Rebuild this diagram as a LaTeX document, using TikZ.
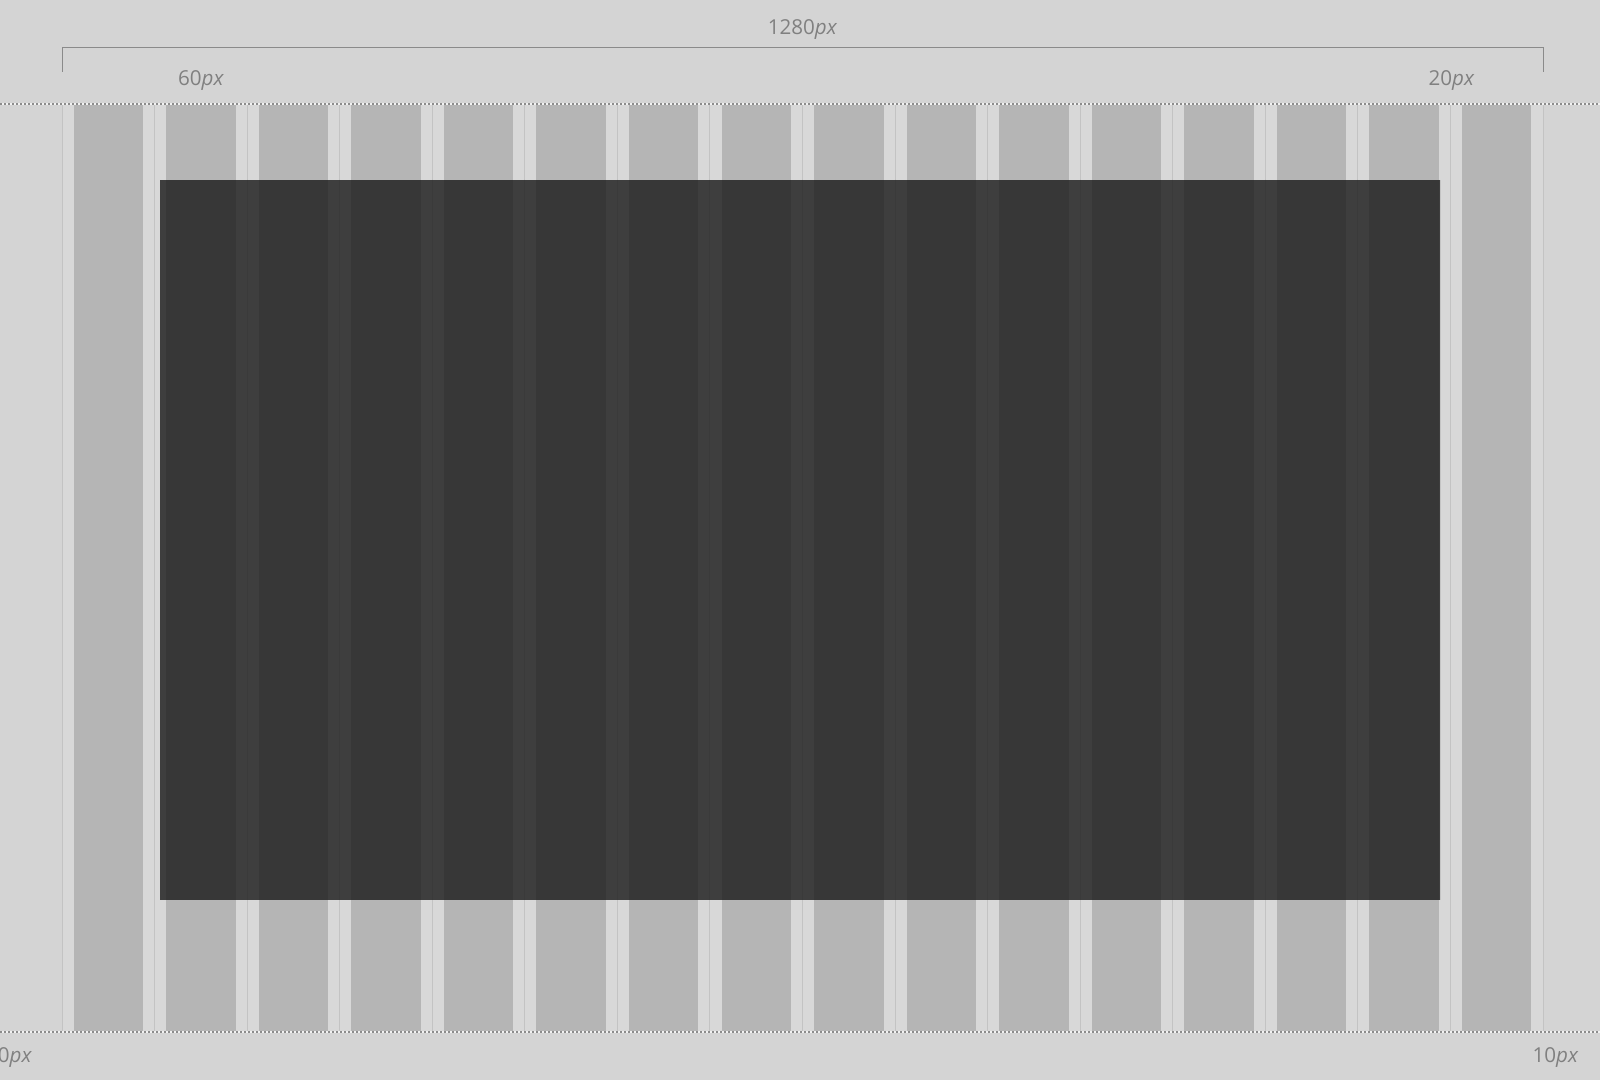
\documentclass[tikz,border=0pt]{standalone}
\usepackage{fontspec}
\setmainfont{Open Sans}
\definecolor{bg}{HTML}{D4D4D4}
\definecolor{gut}{HTML}{D8D8D8}
\definecolor{colgray}{HTML}{B5B5B5}
\definecolor{cellline}{HTML}{C3C3C3}
\definecolor{dotc}{HTML}{8C8C8C}
\definecolor{labelgray}{HTML}{808080}
\definecolor{bracketc}{HTML}{8A8A8A}
\definecolor{darkfill}{HTML}{373737}
\definecolor{darkgut}{HTML}{3E3E3E}
\definecolor{darkline}{HTML}{3A3A3A}
\begin{document}
\begin{tikzpicture}[x=0.5pt,y=-0.5pt,
  lbl/.style={font=\fontsize{10.3}{12}\selectfont, text=labelgray, inner sep=0pt, anchor=base},
  bracketline/.style={draw=bracketc, line width=0.5pt},
  dotline/.style={draw=dotc, line width=0.75pt, dash pattern=on 0.75pt off 1.25pt},
  dotbase/.style={draw=white!70!bg, line width=0.75pt},
  gridline/.style={draw=cellline, line width=0.5pt}]
\useasboundingbox (0,0) rectangle (1600,1080);
\fill[bg] (0,0) rectangle (1600,1080);
% grid cells
\foreach \i in {0,...,15} {
  \pgfmathsetmacro\xa{62+92.5625*\i}
  \fill[gut] (\xa,104) rectangle ++(92.5625,928);
  \fill[colgray] (\xa+11.57,104) rectangle ++(69.42,928);
}
\foreach \i in {0,...,16} {
  \pgfmathsetmacro\xb{62+92.5625*\i}
  \draw[gridline] (\xb,104) -- ++(0,928);
}
% dark frame
\fill[darkfill] (160,180) rectangle (1440,900);
\begin{scope}
  \clip (160,180) rectangle (1440,900);
  \foreach \i in {1,...,15} {
    \pgfmathsetmacro\xc{62+92.5625*\i}
    \fill[darkgut] (\xc-11.57,180) rectangle (\xc+11.57,900);
    \draw[draw=darkline, line width=0.5pt] (\xc,180) -- (\xc,900);
  }
\end{scope}
% dotted lines
\coordinate (dtl) at (0,104);
\coordinate (dtr) at (1600,104);
\coordinate (dbl) at (0,1032);
\coordinate (dbr) at (1600,1032);
\draw[dotbase] (dtl) -- (dtr);
\draw[dotline] (dtl) -- (dtr);
\draw[dotbase] (dbl) -- (dbr);
\draw[dotline] (dbl) -- (dbr);
% bracket
\coordinate (bl) at (62,72);
\coordinate (blt) at (62,48);
\coordinate (brt) at (1543,48);
\coordinate (br) at (1543,72);
\draw[bracketline] (bl) -- (blt) -- (brt) -- (br);
% labels
\node[lbl] (wlbl) at (802.5,34.5) {1280\textit{px}};
\node[lbl] (ml) at (201,86) {60\textit{px}};
\node[lbl] (mr) at (1451.5,86) {20\textit{px}};
\node[lbl] (bll) at (9,1062) {10\textit{px}};
\node[lbl] (brl) at (1555.5,1062) {10\textit{px}};
\end{tikzpicture}
\end{document}
